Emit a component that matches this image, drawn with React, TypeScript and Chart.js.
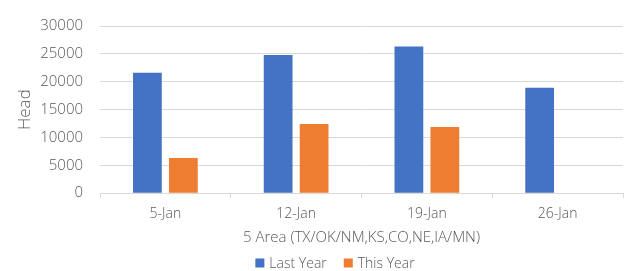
import React, { useEffect, useRef } from "react";
import { Chart, registerables } from "chart.js";

Chart.register(...registerables);

const categories = ["5-Jan", "12-Jan", "19-Jan", "26-Jan"];
const lastYear = [21600, 24800, 26300, 18900];
const thisYear = [6300, 12400, 11900, null];
const yTicks = [0, 5000, 10000, 15000, 20000, 25000, 30000];

const FONT = "'Open Sans', 'Noto Sans', sans-serif";
const GRAY = "#595959";
const W = 300;

const bottomLegend = {
  id: "bottomLegend",
  afterDraw(chart: any, _args: any, opts: any) {
    const ctx = chart.ctx;
    ctx.save();
    ctx.font = `${W} 14px ${FONT}`;
    ctx.textBaseline = "middle";
    const box = 9;
    const boxGap = 5;
    const itemGap = 17;
    const items = chart.data.datasets.map((d: any) => ({
      label: d.label,
      color: d.backgroundColor,
      w: ctx.measureText(d.label).width,
    }));
    const total =
      items.reduce((s: number, it: any) => s + box + boxGap + it.w, 0) +
      itemGap * (items.length - 1);
    let x = opts.centerX - total / 2;
    const y = opts.y;
    for (const it of items) {
      ctx.fillStyle = it.color;
      ctx.fillRect(x, y - box / 2, box, box);
      x += box + boxGap;
      ctx.fillStyle = GRAY;
      ctx.textAlign = "left";
      ctx.fillText(it.label, x, y + 1);
      x += it.w + itemGap;
    }
    ctx.restore();
  },
};

export default function App() {
  const ref = useRef<HTMLCanvasElement | null>(null);

  useEffect(() => {
    document.body.style.margin = "0";
    const ctx = ref.current!.getContext("2d")!;
    const chart = new Chart(ctx, {
      type: "bar",
      data: {
        labels: categories,
        datasets: [
          {
            label: "Last Year",
            data: lastYear,
            backgroundColor: "#4472C4",
            borderWidth: 0,
            categoryPercentage: 0.55,
            barPercentage: 0.8,
          },
          {
            label: "This Year",
            data: thisYear as any,
            backgroundColor: "#ED7D31",
            borderWidth: 0,
            categoryPercentage: 0.55,
            barPercentage: 0.8,
          },
        ],
      },
      plugins: [bottomLegend],
      options: {
        animation: false,
        responsive: false,
        maintainAspectRatio: false,
        layout: { padding: { top: 8, right: 1, bottom: 24, left: 0 } },
        plugins: {
          tooltip: { enabled: false },
          legend: { display: false },
          bottomLegend: { centerX: 335, y: 263 },
        } as any,
        scales: {
          x: {
            grid: {
              display: true,
              drawOnChartArea: false,
              offset: true,
              color: "#d9d9d9",
              tickLength: 5,
            },
            border: { color: "#d9d9d9", width: 1 },
            ticks: {
              color: GRAY,
              font: { family: FONT, size: 14, weight: W as any },
              padding: 7,
            },
            title: {
              display: true,
              text: "5 Area (TX/OK/NM,KS,CO,NE,IA/MN)",
              color: GRAY,
              font: { family: FONT, size: 15, weight: W as any },
              padding: { top: 0, bottom: 0 },
            },
          },
          y: {
            min: 0,
            max: 30000,
            afterBuildTicks: (scale: any) => {
              scale.ticks = yTicks.map((v) => ({ value: v }));
            },
            afterFit: (scale: any) => {
              scale.width = 100;
            },
            grid: {
              color: "#d9d9d9",
              drawTicks: false,
            },
            border: { display: false },
            ticks: {
              color: GRAY,
              font: { family: FONT, size: 15, weight: W as any },
              padding: 17,
              callback: (v: any) => String(v),
            },
            title: {
              display: true,
              text: "Head",
              color: GRAY,
              font: { family: FONT, size: 17, weight: W as any },
              padding: { top: 15, bottom: 0 },
            },
          },
        },
      },
    });
    return () => chart.destroy();
  }, []);

  return (
    <div style={{ position: "absolute", left: 0, top: 0, width: 624, height: 271, background: "#fff" }}>
      <canvas ref={ref} width={624} height={271} style={{ display: "block" }} />
    </div>
  );
}
